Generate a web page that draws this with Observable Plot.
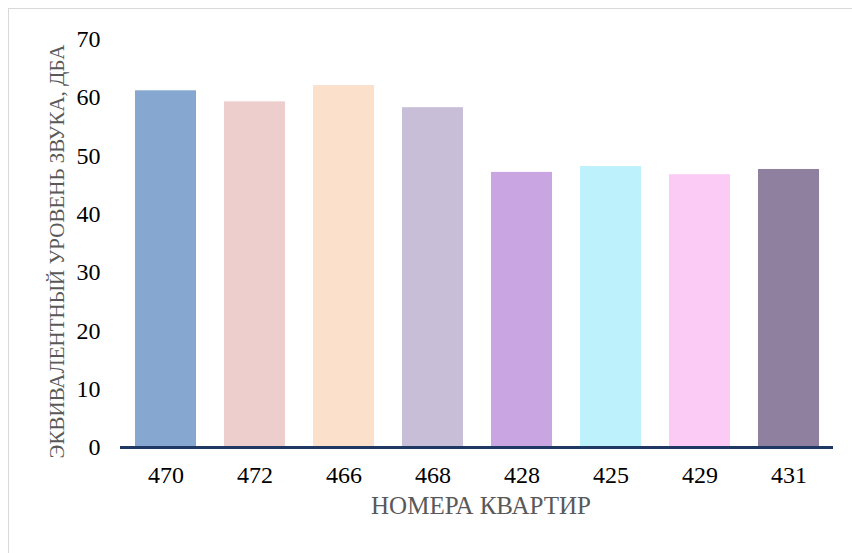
<!DOCTYPE html>
<html>
<head>
<meta charset="utf-8">
<script src="https://cdn.jsdelivr.net/npm/d3@7"></script>
<script src="https://cdn.jsdelivr.net/npm/@observablehq/plot@0.6"></script>
<style>
  html, body { margin: 0; padding: 0; background: #fff; }
  #wrap { position: relative; width: 852px; height: 553px; overflow: hidden; }
  #border { position: absolute; left: 8px; top: 8px; width: 860px; height: 560px; border: 1px solid #d9d9d9; box-sizing: border-box; pointer-events: none; }
  #chart { position: absolute; left: 0; top: 0; }
  #chart svg, #chart svg text, #chart svg g { font-family: 'Liberation Serif', 'Times New Roman', serif !important; font-variant: normal !important; font-variant-numeric: normal !important; }
</style>
</head>
<body>
<div id="wrap"><div id="border"></div><div id="chart"></div></div>
<script>
const apartments = ["470", "472", "466", "468", "428", "425", "429", "431"];
const levels = [61.2, 59.3, 62.1, 58.3, 47.2, 48.2, 46.8, 47.7];
const barColors = ["#86A8D0", "#EDCECC", "#FBE1CC", "#C8BED7", "#C9A5E1", "#BDF1FB", "#FBCAF5", "#8F80A0"];
const yTicks = [0, 10, 20, 30, 40, 50, 60, 70];
const xTitle = "НОМЕРА КВАРТИР";
const yTitle = "ЭКВИВАЛЕНТНЫЙ УРОВЕНЬ ЗВУКА, ДБА";

const data = apartments.map((a, i) => ({apt: a, value: levels[i], color: barColors[i]}));
const serif = "'Liberation Serif', 'Times New Roman', serif";

const chart = Plot.plot({
  width: 852,
  height: 553,
  marginLeft: 120,
  marginRight: 19,
  marginTop: 39,
  marginBottom: 106,
  style: {background: "transparent", fontFamily: serif},
  x: {domain: apartments, paddingInner: 0.315, paddingOuter: 0.157, label: null},
  y: {domain: [0, 70], label: null},
  marks: [
    Plot.barY(data, {x: "apt", y: "value", fill: "color"}),
    Plot.ruleY([0], {stroke: "#1F3864", strokeWidth: 3}),
    Plot.axisX({tickSize: 0, tickPadding: 18, fontSize: 24, fontFamily: serif, fontVariant: "normal", fill: "#000", label: null}),
    Plot.axisY({ticks: yTicks, tickSize: 0, tickPadding: 20, fontSize: 24, fontFamily: serif, fontVariant: "normal", fill: "#000", label: null}),
    Plot.text([xTitle], {frameAnchor: "bottom", dx: 4, dy: 66, text: d => d, fontSize: 25, fontFamily: serif, fill: "#595959"}),
    Plot.text([yTitle], {frameAnchor: "left", textAnchor: "middle", dx: -63, dy: 8, rotate: -90, text: d => d, fontSize: 21, fontFamily: serif, fill: "#595959"})
  ]
});
document.getElementById("chart").appendChild(chart);
</script>
</body>
</html>
